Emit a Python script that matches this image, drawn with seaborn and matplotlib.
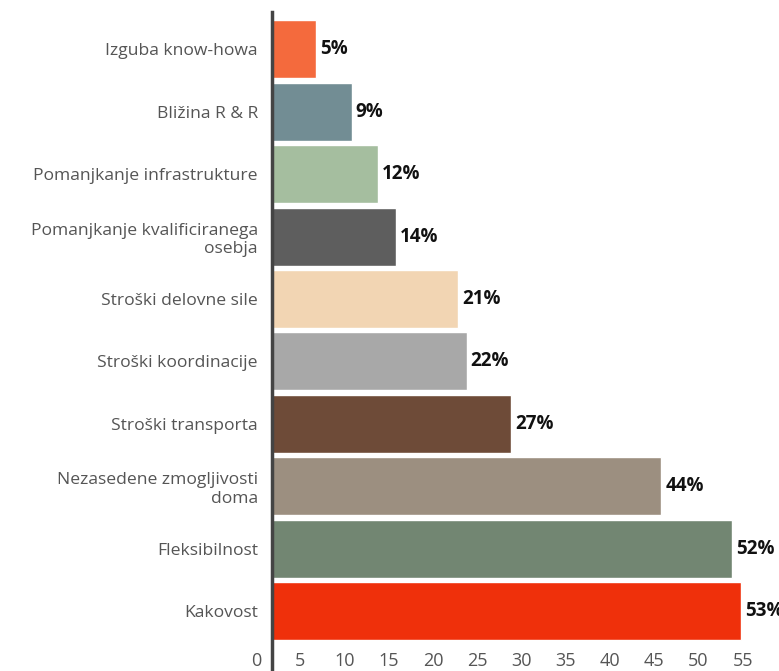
import pandas as pd
import seaborn as sns
import matplotlib.pyplot as plt
import matplotlib.transforms as mtransforms

# categories top to bottom, share of respondents in %
categories = [
    'Izguba know-howa',
    'Bližina R & R',
    'Pomanjkanje infrastrukture',
    'Pomanjkanje kvalificiranega\nosebja',
    'Stroški delovne sile',
    'Stroški koordinacije',
    'Stroški transporta',
    'Nezasedene zmogljivosti\ndoma',
    'Fleksibilnost',
    'Kakovost',
]
values = [5, 9, 12, 14, 21, 22, 27, 44, 52, 53]
colors = ['#F46A3D', '#728D94', '#A5BE9F', '#5E5E5E', '#F2D5B3',
          '#A8A8A8', '#6E4B38', '#9C8F80', '#728672', '#EF300B']

df = pd.DataFrame({'category': categories, 'value': values})

sns.set_style('white')
plt.rcParams['font.family'] = ['Open Sans', 'DejaVu Sans']

fig = plt.figure(figsize=(7.79, 6.71), dpi=100)
ax = fig.add_axes([0.349, 0.043, 0.651, 0.93])

sns.barplot(data=df, y='category', x='value', hue='category', palette=colors,
            order=categories, hue_order=categories, legend=False,
            width=0.93, saturation=1, orient='h', ax=ax)

for cont in ax.containers:
    ax.bar_label(cont, fmt='%d%%', padding=3, fontsize=13.5,
                 fontweight='bold', color='#111111', clip_on=False)

ax.set_xticks(range(0, 65, 5))
ax.set_xlim(0, 57.3)
ax.set_xlabel('')
ax.set_ylabel('')
ax.tick_params(axis='y', length=0, pad=10, labelsize=12.6, labelcolor='#555555')
ax.tick_params(axis='x', length=0, pad=7, labelsize=13, labelcolor='#555555')
for lbl in ax.get_yticklabels():
    lbl.set_multialignment('right')
# tick labels in the original sit a little left of their ticks
shift = mtransforms.ScaledTranslation(-16 / 100, 0, fig.dpi_scale_trans)
for lbl in ax.get_xticklabels():
    lbl.set_transform(lbl.get_transform() + shift)
    lbl.set_clip_on(False)

for side in ['top', 'right', 'bottom']:
    ax.spines[side].set_visible(False)
ax.spines['left'].set_color('#444444')
ax.spines['left'].set_linewidth(2.5)
ax.spines['left'].set_bounds(ax.get_ylim()[0] + 1.2, ax.get_ylim()[1] - 0.1)

fig.savefig('out.png', dpi=100)
